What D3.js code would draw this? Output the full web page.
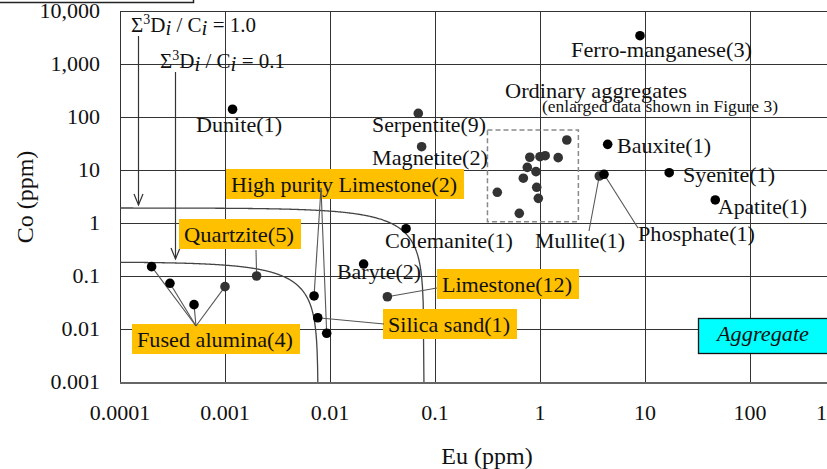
<!DOCTYPE html>
<html><head><meta charset="utf-8">
<script src="https://cdn.jsdelivr.net/npm/d3@7"></script>
<style>
body{margin:0;background:#fff;overflow:hidden}
svg{display:block}
</style>
</head><body>
<svg id="c" width="827" height="469" font-family="'Liberation Serif', Tinos, 'Times New Roman', Times, 'DejaVu Serif', serif"></svg>
<script>
// ---------------- DATA ----------------
const xTicks = [0.0001, 0.001, 0.01, 0.1, 1, 10, 100, 1000];
const xTickLabels = ["0.0001", "0.001", "0.01", "0.1", "1", "10", "100", "1000"];
const yTicks = [0.001, 0.01, 0.1, 1, 10, 100, 1000, 10000];
const yTickLabels = ["0.001", "0.01", "0.1", "1", "10", "100", "1,000", "10,000"];

const namedMaterials = ["Ferro-manganese(3)", "Dunite(1)", "Serpentite(9)", "Magnetite(2)", "Bauxite(1)",
  "Syenite(1)", "Apatite(1)", "Mullite(1)", "Phosphate(1)", "Colemanite(1)", "Baryte(2)"];
const namedEu = [8.96, 0.00118, 0.0693, 0.0746, 4.41, 17.0, 46.7, 3.67, 4.07, 0.053, 0.0209];
const namedCo = [3420, 140, 117, 27.5, 30.5, 8.9, 2.72, 7.7, 8.3, 0.78, 0.168];

const fusedAluminaEu = [0.0002, 0.000299, 0.000507, 0.001];
const fusedAluminaCo = [0.15, 0.0728, 0.0288, 0.063];
const quartziteEu = [0.002];
const quartziteCo = [0.1];
const hpLimestoneEu = [0.00705, 0.0093];
const hpLimestoneCo = [0.042, 0.0083];
const silicaSandEu = [0.00764];
const silicaSandCo = [0.0163];
const limestoneEu = [0.0352];
const limestoneCo = [0.0406];

const ordinaryEu = [1.80, 0.80, 1.00, 1.12, 1.49, 0.757, 0.916, 0.694, 0.93, 0.964, 0.392, 0.635];
const ordinaryCo = [36.8, 17.4, 17.8, 18.6, 17.1, 11.2, 9.3, 7.0, 4.72, 2.92, 3.80, 1.52];
const enlargedBoxEu = [0.316, 2.32];
const enlargedBoxCo = [1.06, 56.9];

const curveSums = ["1.0", "0.1"];
const curveCoLimit = [1.92, 0.184];
const curveEuLimit = [0.0785, 0.0077];

// ---------------- CHART ----------------
const svg = d3.select("#c");
const x = d3.scaleLog().domain([1e-4, 1e3]).range([120, 855]);
const y = d3.scaleLog().domain([1e-3, 1e4]).range([382, 11]);
const W = 827;
const gridCol = "#333";
const TXT = "#111";

svg.append("path").attr("d", "M0,2.5 H193.5 V-2").attr("fill", "none").attr("stroke", "#222").attr("stroke-width", 1.5);

const g = svg.append("g").attr("shape-rendering", "crispEdges");
g.selectAll(".vg").data(xTicks).enter().append("line")
  .attr("x1", d => Math.round(x(d)) + 0.5).attr("x2", d => Math.round(x(d)) + 0.5)
  .attr("y1", y(1e4)).attr("y2", y(1e-3)).attr("stroke", gridCol).attr("stroke-width", 1);
g.selectAll(".hg").data(yTicks.slice(1)).enter().append("line")
  .attr("x1", x(1e-4)).attr("x2", W).attr("y1", d => Math.round(y(d)) + 0.5).attr("y2", d => Math.round(y(d)) + 0.5)
  .attr("stroke", gridCol).attr("stroke-width", 1);
g.append("line").attr("x1", x(1e-4)).attr("x2", W).attr("y1", y(1e-3) + 0.5).attr("y2", y(1e-3) + 0.5)
  .attr("stroke", "#666").attr("stroke-width", 2);
g.append("line").attr("x1", x(1e-4) + 0.5).attr("x2", x(1e-4) + 0.5).attr("y1", y(1e4)).attr("y2", y(1e-3))
  .attr("stroke", "#333").attr("stroke-width", 1.3);

svg.selectAll(".xt").data(xTicks).enter().append("text")
  .attr("x", (d, i) => x(d) + (i === xTicks.length - 1 ? -17 : 0)).attr("y", 420)
  .attr("text-anchor", "middle").attr("font-size", 22).attr("fill", TXT).text((d, i) => xTickLabels[i]);
svg.selectAll(".yt").data(yTicks).enter().append("text")
  .attr("x", 100).attr("y", d => y(d) + 7)
  .attr("text-anchor", "end").attr("font-size", 22).attr("fill", TXT).text((d, i) => yTickLabels[i]);
svg.append("text").attr("x", 487).attr("y", 464).attr("text-anchor", "middle").attr("font-size", 24).attr("fill", TXT).text("Eu (ppm)");
svg.append("text").attr("transform", "translate(33,197) rotate(-90)").attr("text-anchor", "middle")
  .attr("font-size", 24).attr("fill", TXT).text("Co (ppm)");

const curveLine = d3.line().x(d => x(d[0])).y(d => y(d[1]));
curveSums.forEach((s, k) => {
  const a = curveEuLimit[k], c = curveCoLimit[k];
  const pts = [];
  const n = 400;
  for (let i = 0; i <= n; i++) {
    const lf = Math.log10(1e-4) + (Math.log10(a) - Math.log10(1e-4)) * i / n;
    let e = Math.pow(10, lf);
    let co = c * (1 - e / a);
    if (co < 1e-3) { co = 1e-3; e = a * (1 - 1e-3 / c); }
    pts.push([e, co]);
    if (co === 1e-3) break;
  }
  svg.append("path").attr("d", curveLine(pts)).attr("fill", "none").attr("stroke", "#444").attr("stroke-width", 1.3);
});

function formula(x0, yb, val) {
  const t = svg.append("text").attr("x", x0).attr("y", yb).attr("font-size", 21).attr("fill", TXT).attr("xml:space", "preserve");
  t.append("tspan").text("Σ");
  t.append("tspan").attr("dy", -8).attr("font-size", 14).text("3");
  t.append("tspan").attr("dy", 8).text("D");
  t.append("tspan").attr("dy", 3).attr("font-style", "italic").text("i");
  t.append("tspan").attr("dy", -3).text(" /");
  t.append("tspan").text(" C");
  t.append("tspan").attr("dy", 3).attr("font-style", "italic").text("i");
  t.append("tspan").attr("dy", -3).text(" = " + val);
}
formula(131, 32, curveSums[0]);
formula(160, 68, curveSums[1]);
function arrow(xp, y0, k) {
  const tip = y(curveCoLimit[k]) - 3;
  svg.append("line").attr("x1", xp).attr("x2", xp).attr("y1", y0).attr("y2", tip).attr("stroke", "#333").attr("stroke-width", 1.2);
  svg.append("path").attr("d", `M${xp - 4.5},${tip - 11} L${xp},${tip} L${xp + 4.5},${tip - 11}`)
    .attr("fill", "none").attr("stroke", "#333").attr("stroke-width", 1.2);
}
arrow(138.5, 36, 0);
arrow(175.5, 72, 1);

svg.append("rect").attr("x", x(enlargedBoxEu[0])).attr("y", y(enlargedBoxCo[1]))
  .attr("width", x(enlargedBoxEu[1]) - x(enlargedBoxEu[0])).attr("height", y(enlargedBoxCo[0]) - y(enlargedBoxCo[1]))
  .attr("fill", "none").attr("stroke", "#8a8a8a").attr("stroke-width", 1.5).attr("stroke-dasharray", "5,3");

const leaderCol = "#555";
function leader(px, py, e, c) {
  svg.append("line").attr("x1", px).attr("y1", py).attr("x2", x(e)).attr("y2", y(c))
    .attr("stroke", leaderCol).attr("stroke-width", 1.1);
}
function boxLabel(txt, tx, tb, tl) {
  const gg = svg.append("g");
  const r = gg.append("rect").attr("fill", "#FFC000");
  const t = gg.append("text").attr("x", tx).attr("y", tb).attr("font-size", 22).attr("fill", TXT)
    .attr("textLength", tl).attr("lengthAdjust", "spacingAndGlyphs").text(txt);
  r.attr("x", tx - 5).attr("y", tb - 23).attr("width", tl + 12).attr("height", 30);
}
boxLabel("High purity Limestone(2)", 231, 192, 226);
boxLabel("Quartzite(5)", 184, 242, 110);
boxLabel("Fused alumina(4)", 137, 347, 156);
boxLabel("Silica sand(1)", 388, 332, 122);
boxLabel("Limestone(12)", 442, 292, 130);

fusedAluminaEu.forEach((e, i) => leader(196, 326, e, fusedAluminaCo[i]));
quartziteEu.forEach((e, i) => leader(256, 250, e, quartziteCo[i]));
hpLimestoneEu.forEach((e, i) => leader(321, 188, e, hpLimestoneCo[i]));
silicaSandEu.forEach((e, i) => leader(384, 324, e, silicaSandCo[i]));
limestoneEu.forEach((e, i) => leader(437, 288, e, limestoneCo[i]));
leader(589, 231, namedEu[7], namedCo[7]);
leader(638, 228, namedEu[8], namedCo[8]);

const grayNames = new Set(["Serpentite(9)", "Magnetite(2)", "Mullite(1)"]);
function dots(eu, co, fill) {
  eu.forEach((e, i) => svg.append("circle").attr("cx", x(e)).attr("cy", y(co[i])).attr("r", 4.8).attr("fill", fill));
}
dots(ordinaryEu, ordinaryCo, "#333");
dots(fusedAluminaEu.slice(0, 3), fusedAluminaCo.slice(0, 3), "#000");
dots(fusedAluminaEu.slice(3), fusedAluminaCo.slice(3), "#333");
dots(quartziteEu, quartziteCo, "#333");
dots(hpLimestoneEu, hpLimestoneCo, "#000");
dots(silicaSandEu, silicaSandCo, "#000");
dots(limestoneEu, limestoneCo, "#333");
namedMaterials.forEach((m, i) => {
  svg.append("circle").attr("cx", x(namedEu[i])).attr("cy", y(namedCo[i])).attr("r", 4.8)
    .attr("fill", grayNames.has(m) ? "#333" : "#000");
});

// label layout: [x, baseline, text width]
const labelPos = {
  "Ferro-manganese(3)": [571, 57, 181], "Dunite(1)": [196, 132, 86], "Serpentite(9)": [372, 132, 114],
  "Magnetite(2)": [372, 165, 116], "Bauxite(1)": [617, 153, 94], "Syenite(1)": [683, 182, 92],
  "Apatite(1)": [718, 214, 89], "Mullite(1)": [535, 248, 90], "Phosphate(1)": [638, 241, 117],
  "Colemanite(1)": [385, 248, 128], "Baryte(2)": [337, 279, 84]
};
namedMaterials.forEach(m => {
  const p = labelPos[m];
  svg.append("text").attr("x", p[0]).attr("y", p[1]).attr("font-size", 22).attr("fill", TXT)
    .attr("textLength", p[2]).attr("lengthAdjust", "spacingAndGlyphs").text(m);
});
svg.append("text").attr("x", 505).attr("y", 98).attr("font-size", 22).attr("fill", TXT)
  .attr("textLength", 182).attr("lengthAdjust", "spacingAndGlyphs").text("Ordinary aggregates");
svg.append("text").attr("x", 542).attr("y", 112).attr("font-size", 17.5).attr("fill", TXT)
  .attr("textLength", 236).attr("lengthAdjust", "spacingAndGlyphs").text("(enlarged data shown in Figure 3)");

svg.append("rect").attr("x", 698.5).attr("y", 318.5).attr("width", 140).attr("height", 35)
  .attr("fill", "#00FFFF").attr("stroke", "#111").attr("stroke-width", 1.3);
svg.append("text").attr("x", 717).attr("y", 341).attr("font-size", 22).attr("font-style", "italic").attr("fill", TXT)
  .attr("textLength", 92).attr("lengthAdjust", "spacingAndGlyphs").text("Aggregate");
</script>
</body></html>
